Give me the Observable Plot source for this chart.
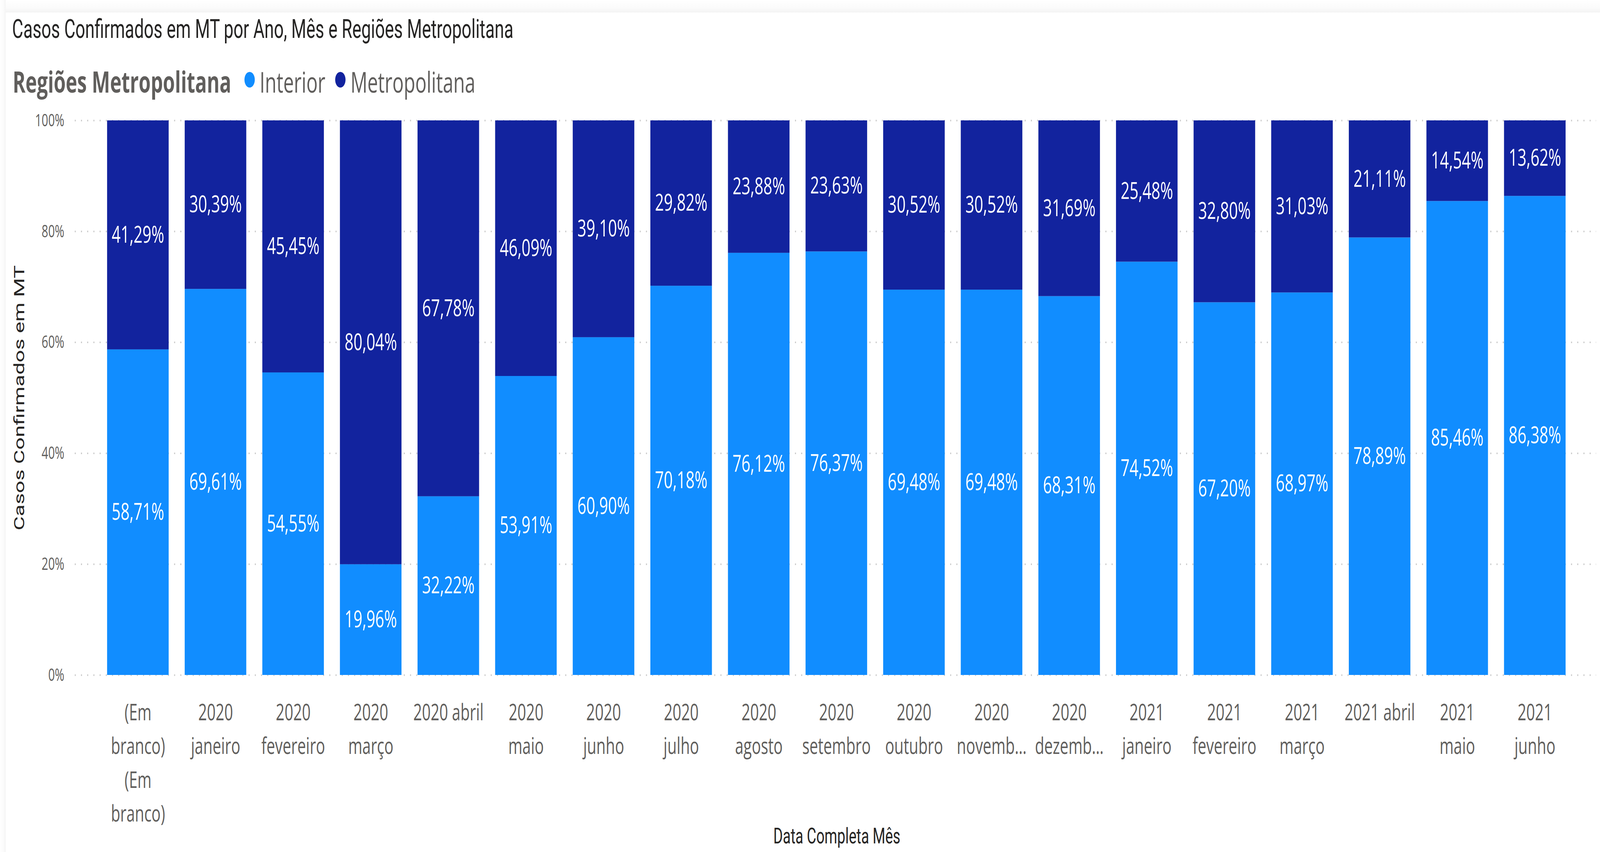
<!DOCTYPE html>
<html><head><meta charset="utf-8">
<script src="https://cdn.jsdelivr.net/npm/d3@7"></script>
<script src="https://cdn.jsdelivr.net/npm/@observablehq/plot@0.6"></script>
<style>
html,body{margin:0;padding:0;background:#fff;overflow:hidden;}
#outer{position:relative;overflow:hidden;background:#fff;}
#root{position:absolute;left:0;top:0;width:6185px;height:2180px;overflow:hidden;background:#fff;transform-origin:0 0;}
.strip-top{position:absolute;left:0;top:0;width:6185px;height:32px;background:linear-gradient(to bottom,#ffffff 0%,#fbfbfb 60%,#f4f4f4 100%);z-index:2;}
.strip-left{position:absolute;left:0;top:0;width:22px;height:2180px;background:linear-gradient(to right,#ffffff 0%,#fbfbfb 60%,#f4f4f4 100%);z-index:2;}
</style></head><body><div id="outer"><div id="root"><div class="strip-top"></div><div class="strip-left"></div></div></div>
<script>
// ---------- data ----------
const categories = ["(Em branco) (Em branco)","2020 janeiro","2020 fevereiro","2020 março","2020 abril","2020 maio","2020 junho","2020 julho","2020 agosto","2020 setembro","2020 outubro","2020 novembro","2020 dezembro","2021 janeiro","2021 fevereiro","2021 março","2021 abril","2021 maio","2021 junho"];
const tickLabels = ["(Em\nbranco)\n(Em\nbranco)","2020\njaneiro","2020\nfevereiro","2020\nmarço","2020 abril","2020\nmaio","2020\njunho","2020\njulho","2020\nagosto","2020\nsetembro","2020\noutubro","2020\nnovemb…","2020\ndezemb…","2021\njaneiro","2021\nfevereiro","2021\nmarço","2021 abril","2021\nmaio","2021\njunho"];
const interior = [58.71,69.61,54.55,19.96,32.22,53.91,60.90,70.18,76.12,76.37,69.48,69.48,68.31,74.52,67.20,68.97,78.89,85.46,86.38];
const metropolitana = [41.29,30.39,45.45,80.04,67.78,46.09,39.10,29.82,23.88,23.63,30.52,30.52,31.69,25.48,32.80,31.03,21.11,14.54,13.62];
const regions = ["Interior","Metropolitana"];
const yTicks = [0,20,40,60,80,100];
const title = "Casos Confirmados em MT por Ano, Mês e Regiões Metropolitana";
const legendTitle = "Regiões Metropolitana";
const yTitle = "Casos Confirmados em MT";
const xTitle = "Data Completa Mês";

// ---------- layout: design space 6185x2180, fitted to the window ----------
const W = 6185, H = 2180;
const SX = (window.innerWidth || W) / W;
const SY = (window.innerHeight || H) / H;
const outer = document.getElementById("outer");
outer.style.width = (W * SX) + "px";
outer.style.height = (H * SY) + "px";
document.getElementById("root").style.transform = `scale(${SX}, ${SY})`;

const colors = ["#118DFF", "#12239E"];
const DIN = "Roboto";
const SEGOE = '"Open Sans"';
const ctx = document.createElement("canvas").getContext("2d");
function fit(text, family, weight, target) {
  ctx.font = `${weight} 100px ${family}`;
  return 100 * target / ctx.measureText(text).width;
}
const titleSize = fit(title, DIN, 400, 1939);
const legendTitleSize = fit(legendTitle, SEGOE, 700, 845);
const legendItemSize = (fit("Interior", SEGOE, 400, 249) + fit("Metropolitana", SEGOE, 400, 492)) / 2;
const yTitleSize = fit(yTitle, DIN, 400, 679);
const xTitleSize = fit(xTitle, DIN, 400, 491);
const barLabelSize = fit("41,29%", SEGOE, 400, 203);
const yTickSize = fit("100%", SEGOE, 400, 113);
const xTickSize = (fit("2021", SEGOE, 400, 129) + fit("junho", SEGOE, 400, 165)) / 2;

const root = d3.select("#root");

// ---------- header: title + legend ----------
const header = root.append("svg")
  .attr("width", W).attr("height", 290)
  .style("position", "absolute").style("left", "0px").style("top", "0px");
header.append("text")
  .attr("x", 47).attr("y", 97)
  .attr("font-family", DIN).attr("font-size", titleSize).attr("fill", "#252423")
  .text(title);
let lx = 49;
const ly = 237;
const lt = header.append("text")
  .attr("x", lx).attr("y", ly)
  .attr("font-family", SEGOE).attr("font-weight", 700).attr("font-size", legendTitleSize).attr("fill", "#605E5C")
  .text(legendTitle);
lx += lt.node().getComputedTextLength() + 51;
regions.forEach((r, i) => {
  header.append("circle").attr("cx", lx + 20).attr("cy", 204).attr("r", 20).attr("fill", colors[i]);
  lx += 40 + 19;
  const t = header.append("text")
    .attr("x", lx).attr("y", ly)
    .attr("font-family", SEGOE).attr("font-size", legendItemSize).attr("fill", "#605E5C")
    .text(r);
  lx += t.node().getComputedTextLength() + 38;
});

// ---------- chart ----------
const data = categories.flatMap((c, i) => [
  {cat: c, region: regions[0], value: interior[i]},
  {cat: c, region: regions[1], value: metropolitana[i]}
]);
const fmt = v => v.toFixed(2).replace(".", ",") + "%";

const chart = Plot.plot({
  width: W,
  height: 1890,
  marginTop: 18,
  marginBottom: 453,
  marginLeft: 289,
  marginRight: 15,
  style: {background: "transparent", overflow: "visible"},
  x: {domain: categories, range: [409, 6057], paddingInner: 0.207, paddingOuter: 0, label: null},
  y: {domain: [0, 100], label: null},
  color: {domain: regions, range: colors},
  marks: [
    Plot.gridY(yTicks, {stroke: "#C8C8C8", strokeOpacity: 1, strokeWidth: 4, strokeDasharray: "4,20"}),
    Plot.barY(data, {x: "cat", y: "value", fill: "region"}),
    Plot.text(data, Plot.stackY({
      x: "cat", y: "value", z: "region",
      text: d => fmt(d.value),
      fill: "white", fontSize: barLabelSize, fontFamily: SEGOE
    })),
    Plot.axisY({
      ticks: yTicks, tickSize: 0, tickPadding: 41, tickFormat: d => d + "%",
      fontSize: yTickSize, fontFamily: SEGOE, fill: "#605E5C", label: null
    }),
    Plot.axisX({
      tickSize: 0, tickPadding: 54,
      tickFormat: d => tickLabels[categories.indexOf(d)],
      fontSize: xTickSize, fontFamily: SEGOE, fill: "#605E5C", lineHeight: 1.47, label: null
    }),
    Plot.text([yTitle], {
      frameAnchor: "left", textAnchor: "middle", dx: -214, rotate: -90,
      fontSize: yTitleSize, fontFamily: DIN, fill: "#252423"
    }),
    Plot.text([xTitle], {
      frameAnchor: "bottom", textAnchor: "middle", dx: 5, dy: 430, lineAnchor: "bottom",
      fontSize: xTitleSize, fontFamily: DIN, fill: "#252423"
    })
  ]
});
chart.style.position = "absolute";
chart.style.left = "0px";
chart.style.top = "290px";
root.node().appendChild(chart);
</script></body></html>
